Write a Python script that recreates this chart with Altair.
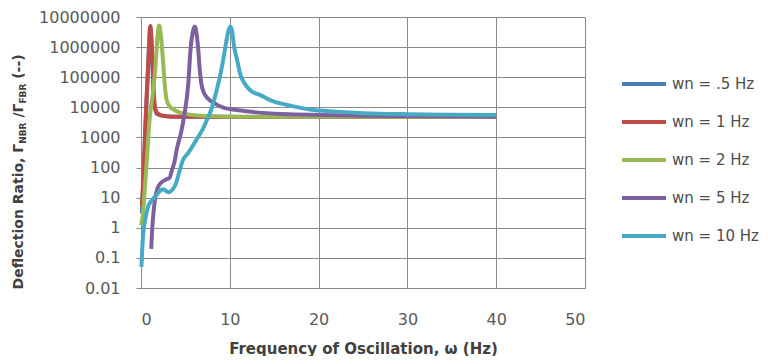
import altair as alt
import pandas as pd

series_names = ["wn = .5 Hz", "wn = 1 Hz", "wn = 2 Hz", "wn = 5 Hz", "wn = 10 Hz"]
series_colors = ["#4A7EBB", "#BE4B48", "#98B954", "#7D60A0", "#46AAC5"]
legend_widths = [4, 4, 1.5, 4, 4]

# wn = .5 Hz (hidden almost entirely beneath the other curves)
w_05 = [0.1, 0.3, 0.5, 0.7, 0.85, 0.95, 1.0, 1.05, 1.15, 1.25, 1.35, 1.5, 1.8, 2.5, 4, 7, 12, 20, 30, 40]
v_05 = [3, 60, 2000, 4e4, 5e5, 2e6, 4e6, 4.5e6, 2e6, 5e5, 8e4, 1.2e4, 6000, 5200, 4900, 4850, 4800, 4800, 4800, 4800]

# wn = 1 Hz
w_1 = [0.1, 0.2, 0.3, 0.4, 0.5, 0.6, 0.7, 0.8, 0.9, 1.0, 1.05, 1.1, 1.2, 1.3, 1.4, 1.5, 1.65, 1.9, 2.3, 3, 4, 6, 10, 20, 30, 40]
v_1 = [5, 20, 90, 500, 3000, 1.5e4, 6e4, 2.5e5, 1e6, 3.5e6, 5e6, 4.2e6, 1.3e6, 3e5, 6e4, 1.6e4, 8000, 6200, 5400, 5000, 4900, 4850, 4800, 4800, 4800, 4800]

# wn = 2 Hz
w_2 = [0, 0.2, 0.4, 0.6, 0.8, 1.0, 1.2, 1.4, 1.5, 1.6, 1.7, 1.8, 1.9, 2.0, 2.05, 2.1, 2.2, 2.3, 2.4, 2.5, 2.65, 2.85, 3.2, 3.8, 4.5, 6, 8, 12, 20, 30, 40]
v_2 = [1.2, 2.5, 15, 100, 800, 5000, 1.5e4, 4e4, 8e4, 1.8e5, 5e5, 1.3e6, 3e6, 5e6, 5.2e6, 4.8e6, 3e6, 1.6e6, 7e5, 3e5, 7e4, 2e4, 1.1e4, 8000, 6500, 5500, 5100, 4900, 4850, 4850, 4850]

# wn = 5 Hz
w_5 = [1.15, 1.25, 1.4, 1.6, 1.9, 2.3, 2.8, 3.2, 3.5, 3.8, 4.0, 4.5, 4.9, 5.3, 5.6, 5.8, 5.95, 6.05, 6.15, 6.3, 6.45, 6.6, 6.8, 7.1, 7.5, 8.2, 9.2, 11, 13, 16, 20, 25, 30, 40]
v_5 = [0.2, 0.8, 3, 10, 22, 32, 40, 45, 85, 170, 370, 1400, 6000, 5e4, 1e6, 2.8e6, 4.3e6, 4.8e6, 4.3e6, 2.2e6, 8e5, 2e5, 6e4, 3e4, 2e4, 1.4e4, 1e4, 8000, 6800, 6000, 5600, 5300, 5150, 5000]

# wn = 10 Hz
w_10 = [0.05, 0.2, 0.5, 0.8, 1.2, 1.6, 2.0, 2.4, 2.8, 3.1, 3.5, 3.9, 4.3, 4.7, 5.3, 6.2, 7.0, 7.4, 8.0, 8.5, 9.0, 9.3, 9.6, 9.85, 10.05, 10.25, 10.5, 10.8, 11.2, 11.7, 12.3, 13.5, 14.6, 15.7, 17, 19, 22, 25, 30, 35, 40]
v_10 = [0.05, 0.4, 2, 5, 8, 11, 15, 19, 17, 15, 18, 28, 70, 170, 300, 800, 2000, 3700, 1e4, 3.5e4, 1.5e5, 4.5e5, 1.5e6, 3.5e6, 4.7e6, 3.5e6, 1e6, 4e5, 1.2e5, 6e4, 3.7e4, 2.5e4, 1.7e4, 1.35e4, 1.1e4, 8500, 7200, 6400, 5900, 5700, 5600]

x_ticks = [0, 10, 20, 30, 40, 50]
y_ticks = [0.01, 0.1, 1, 10, 100, 1000, 10000, 100000, 1000000, 10000000]

all_w = [w_05, w_1, w_2, w_5, w_10]
all_v = [v_05, v_1, v_2, v_5, v_10]
rows = []
for name, ws, vs in zip(series_names, all_w, all_v):
    for w, v in zip(ws, vs):
        rows.append({"series": name, "omega": w, "ratio": v})
df = pd.DataFrame(rows)

GRID = "#8a8a8a"
LABEL = "#595959"
FONT = "DejaVu Sans"

x_enc = alt.X("omega:Q",
              scale=alt.Scale(domain=[0, 50], nice=False),
              axis=alt.Axis(values=x_ticks, grid=True, ticks=False, tickSize=0,
                            labelPadding=23, labelFont=FONT, labelFontSize=16, labelColor=LABEL,
                            title="Frequency of Oscillation,  ω (Hz)", titleFont=FONT,
                            titleFontSize=15, titleFontWeight="bold", titleColor="#404040",
                            titlePadding=14))
y_enc = alt.Y("ratio:Q",
              scale=alt.Scale(type="log", domain=[0.01, 1e7], nice=False),
              axis=alt.Axis(values=y_ticks, grid=True, tickSize=5, tickColor=GRID,
                            labelPadding=16, labelFont=FONT, labelFontSize=16, labelColor=LABEL,
                            labelExpr="datum.value >= 1 ? format(datum.value, 'd') : format(datum.value, '.2~f')",
                            title=None))

base = alt.Chart(df)

legend_spec = dict(title=None, orient="none", legendX=490, legendY=54, direction="vertical",
                   symbolType="M-2,0H2", symbolSize=484, symbolOpacity=1,
                   labelFont=FONT, labelFontSize=15, labelColor="#4d4d4d",
                   labelOffset=15, rowPadding=17, padding=0)

legend_layer = base.mark_line(opacity=0).encode(
    x=x_enc, y=y_enc,
    color=alt.Color("series:N", scale=alt.Scale(domain=series_names, range=series_colors),
                    legend=alt.Legend(**legend_spec)),
    strokeWidth=alt.StrokeWidth("series:N", scale=alt.Scale(domain=series_names, range=legend_widths),
                                legend=alt.Legend(**legend_spec)),
)

line_layers = []
for name, col in zip(series_names, series_colors):
    line_layers.append(
        base.transform_filter(alt.datum.series == name)
        .mark_line(interpolate="monotone", strokeWidth=4, color=col)
        .encode(x=x_enc, y=y_enc)
    )

# y-axis title made of pieces (with subscripts)
def title_piece(text, y, x, size, align):
    return alt.Chart(pd.DataFrame({"t": [text]})).mark_text(
        angle=270, align=align, baseline="alphabetic", font=FONT, fontWeight="bold",
        fontSize=size, color="#404040"
    ).encode(x=alt.value(x), y=alt.value(y), text="t:N")

pieces = [
    title_piece("Deflection Ratio, Γ", 126.8, -118, 14, "right"),
    title_piece("NBR", 126.8, -115, 9, "left"),
    title_piece("/Γ", 100.6, -118, 14, "left"),
    title_piece("FBR", 86.6, -115, 9, "left"),
    title_piece("(--)", 61.8, -118, 14, "left"),
]

chart = alt.layer(legend_layer, *line_layers, *pieces).properties(
    width=444, height=271,
    autosize=alt.AutoSizeParams(type="none"),
    padding={"left": 133, "top": 9, "right": 175, "bottom": 68},
).configure_view(stroke=None).configure_axis(
    gridColor=GRID, gridWidth=1, domainColor=GRID, domainWidth=1
)

chart.save("out.html", embed_options={"renderer": "svg", "actions": False})
